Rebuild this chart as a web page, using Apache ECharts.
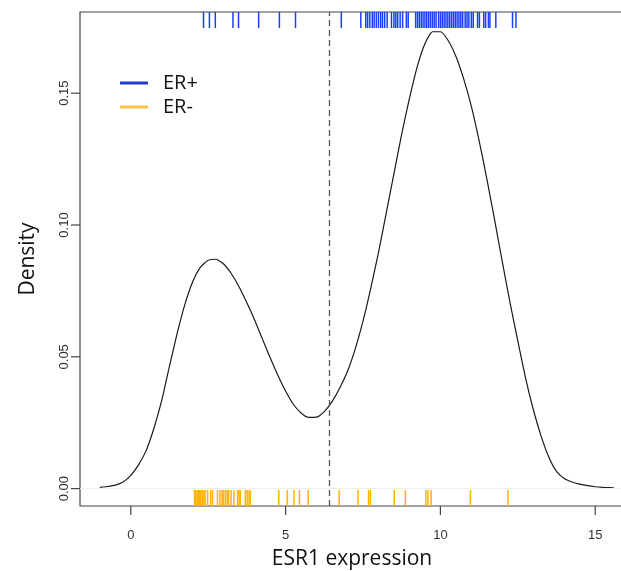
<!DOCTYPE html>
<html>
<head>
<meta charset="utf-8">
<script src="https://cdn.jsdelivr.net/npm/echarts@6/dist/echarts.min.js"></script>
<style>html,body{margin:0;padding:0;background:#fff}#c{width:621px;height:571px}</style>
</head>
<body>
<div id="c"></div>
<script>
// Density curve (all samples)
const densityX = [-1, -0.75, -0.5, -0.25, 0, 0.25, 0.5, 0.75, 1, 1.25, 1.5, 1.75, 2, 2.25, 2.5, 2.75, 3, 3.25, 3.5, 3.75,
  4, 4.25, 4.5, 4.75, 5, 5.25, 5.5, 5.75, 6, 6.25, 6.5, 6.75, 7, 7.25, 7.5, 7.75, 8, 8.25, 8.5, 8.75,
  9, 9.25, 9.5, 9.75, 10, 10.25, 10.5, 10.75, 11, 11.25, 11.5, 11.75, 12, 12.25, 12.5, 12.75, 13, 13.25, 13.5, 13.75,
  14, 14.25, 14.5, 14.75, 15, 15.25, 15.6];
const densityY = [0.0005, 0.0008, 0.0013, 0.0025, 0.0050, 0.0090, 0.0145, 0.0230, 0.0335, 0.0465, 0.0590, 0.0700, 0.0785, 0.0840, 0.0866, 0.0870, 0.0852, 0.0815, 0.0765, 0.0705,
  0.0640, 0.0568, 0.0497, 0.0430, 0.0370, 0.0320, 0.0287, 0.0270, 0.0271, 0.0292, 0.0330, 0.0382, 0.0445, 0.0530, 0.0635, 0.0760, 0.0895, 0.1045, 0.1195, 0.1345,
  0.1480, 0.1600, 0.1688, 0.1733, 0.1733, 0.1700, 0.1640, 0.1555, 0.1450, 0.1320, 0.1175, 0.1020, 0.0860, 0.0705, 0.0560, 0.0420, 0.0300, 0.0200, 0.0120, 0.0065,
  0.0038, 0.0025, 0.0017, 0.0011, 0.0007, 0.0005, 0.0003];
// Rug values
const erPos = [2.35, 2.54, 2.73, 3.30, 3.48, 4.13, 4.80, 5.32, 6.80,
  7.43, 7.59, 7.65, 7.72, 7.80, 7.86, 7.93, 8.00, 8.07, 8.13, 8.20, 8.28, 8.42, 8.50, 8.56, 8.62, 8.70, 8.78, 8.90, 8.96,
  9.20, 9.26, 9.32, 9.38, 9.44, 9.50, 9.56, 9.62, 9.68, 9.74, 9.80, 9.86, 9.94, 10.00, 10.06, 10.12, 10.18, 10.24, 10.30,
  10.36, 10.42, 10.48, 10.54, 10.60, 10.66, 10.72, 10.80, 10.86, 10.92, 11.00, 11.06, 11.20, 11.26, 11.40, 11.46, 11.55, 11.60, 11.79, 12.33, 12.44];
const erNeg = [2.06, 2.10, 2.14, 2.18, 2.22, 2.26, 2.31, 2.36, 2.40, 2.48, 2.58, 2.64, 2.80, 2.88, 2.95, 3.00, 3.06, 3.12, 3.16, 3.24,
  3.33, 3.45, 3.50, 3.54, 3.70, 3.76, 3.82, 3.86, 4.78, 5.05, 5.27, 5.45, 5.73, 6.73, 7.34, 7.68, 7.74, 8.51, 8.87, 9.53, 9.60, 9.70, 10.97, 12.18];
const cutoff = 6.4;
const xTicks = [0, 5, 10, 15];
const yTicks = [0, 0.05, 0.10, 0.15];
const yLabels = ['0.00', '0.05', '0.10', '0.15'];
const xRange = [-1.64, 15.93];
const yRange = [-0.0066, 0.1808];

const chart = echarts.init(document.getElementById('c'));
function rug(top, color) {
  return function (params, api) {
    const p = api.coord([api.value(0), 0]);
    const cs = params.coordSys;
    const y1 = top ? cs.y : cs.y + cs.height;
    const y2 = top ? cs.y + 16 : cs.y + cs.height - 16;
    return { type: 'line', shape: { x1: p[0], y1: y1, x2: p[0], y2: y2 }, style: { stroke: color, lineWidth: 1.5 } };
  };
}
// Outward axis ticks (R style), positioned through the axis scales
function tickMark(isX) {
  return function (params, api) {
    const v = api.value(0);
    const cs = params.coordSys;
    if (isX) {
      const p = api.coord([v, yRange[0]]);
      return { type: 'line', shape: { x1: p[0], y1: cs.y + cs.height, x2: p[0], y2: cs.y + cs.height + 9 }, style: { stroke: '#444', lineWidth: 1.2 } };
    }
    const p = api.coord([xRange[0], v]);
    return { type: 'line', shape: { x1: cs.x - 9, y1: p[1], x2: cs.x, y2: p[1] }, style: { stroke: '#444', lineWidth: 1.2 } };
  };
}
chart.setOption({
  animation: false,
  grid: { left: 80, top: 12, right: -3, bottom: 65, containLabel: false, outerBoundsMode: 'none',
    show: true, borderColor: '#444', borderWidth: 1.2 },
  legend: {
    orient: 'vertical', left: 115, top: 68, itemWidth: 28, itemHeight: 3, icon: 'rect', itemGap: 4,
    textStyle: { fontFamily: 'Open Sans', fontSize: 20, color: '#111', padding: [0, 0, 0, 10] },
    data: [{ name: 'ER+', itemStyle: { color: '#1e3fcc' } }, { name: 'ER-', itemStyle: { color: '#f8c346' } }]
  },
  xAxis: {
    type: 'value', min: xRange[0], max: xRange[1],
    name: 'ESR1 expression', nameLocation: 'middle', nameGap: 43,
    nameTextStyle: { fontFamily: 'Open Sans', fontSize: 21, color: '#111' },
    axisLine: { show: false, onZero: false }, splitLine: { show: false },
    axisTick: { show: false },
    axisLabel: { customValues: xTicks, margin: 23, fontFamily: 'Liberation Sans', fontSize: 13, color: '#333' }
  },
  yAxis: {
    type: 'value', min: yRange[0], max: yRange[1],
    name: 'Density', nameLocation: 'middle', nameGap: 41,
    nameTextStyle: { fontFamily: 'Open Sans', fontSize: 21, color: '#111' },
    axisLine: { show: false, onZero: false }, splitLine: { show: false },
    axisTick: { show: false },
    axisLabel: { customValues: yTicks, rotate: 90, margin: 9, fontFamily: 'Liberation Sans', fontSize: 13, color: '#333',
      formatter: v => yLabels[yTicks.findIndex(t => Math.abs(t - v) < 1e-9)] }
  },
  series: [
    { type: 'line', name: 'density', data: densityX.map((x, i) => [x, densityY[i]]), smooth: 0.2, symbol: 'none',
      lineStyle: { color: '#1a1a1a', width: 1.2 },
      markLine: { silent: true, symbol: 'none', label: { show: false },
        data: [{ xAxis: cutoff, lineStyle: { color: '#555', type: [6, 4], width: 1.3 } },
               { yAxis: 0, lineStyle: { color: '#eeeeee', type: 'solid', width: 1 } }] } },
    { type: 'custom', name: 'ER+', data: erPos.map(v => [v]), renderItem: rug(true, '#1a40ff'), itemStyle: { color: '#1a40ff' } },
    { type: 'custom', name: 'ER-', data: erNeg.map(v => [v]), renderItem: rug(false, '#ffb400'), itemStyle: { color: '#ffb400' } },
    { type: 'custom', name: 'xticks', silent: true, clip: false, data: xTicks.map(v => [v]), renderItem: tickMark(true) },
    { type: 'custom', name: 'yticks', silent: true, clip: false, data: yTicks.map(v => [v]), renderItem: tickMark(false),
      encode: { x: -1, y: 0 } }
  ]
});
</script>
</body>
</html>
